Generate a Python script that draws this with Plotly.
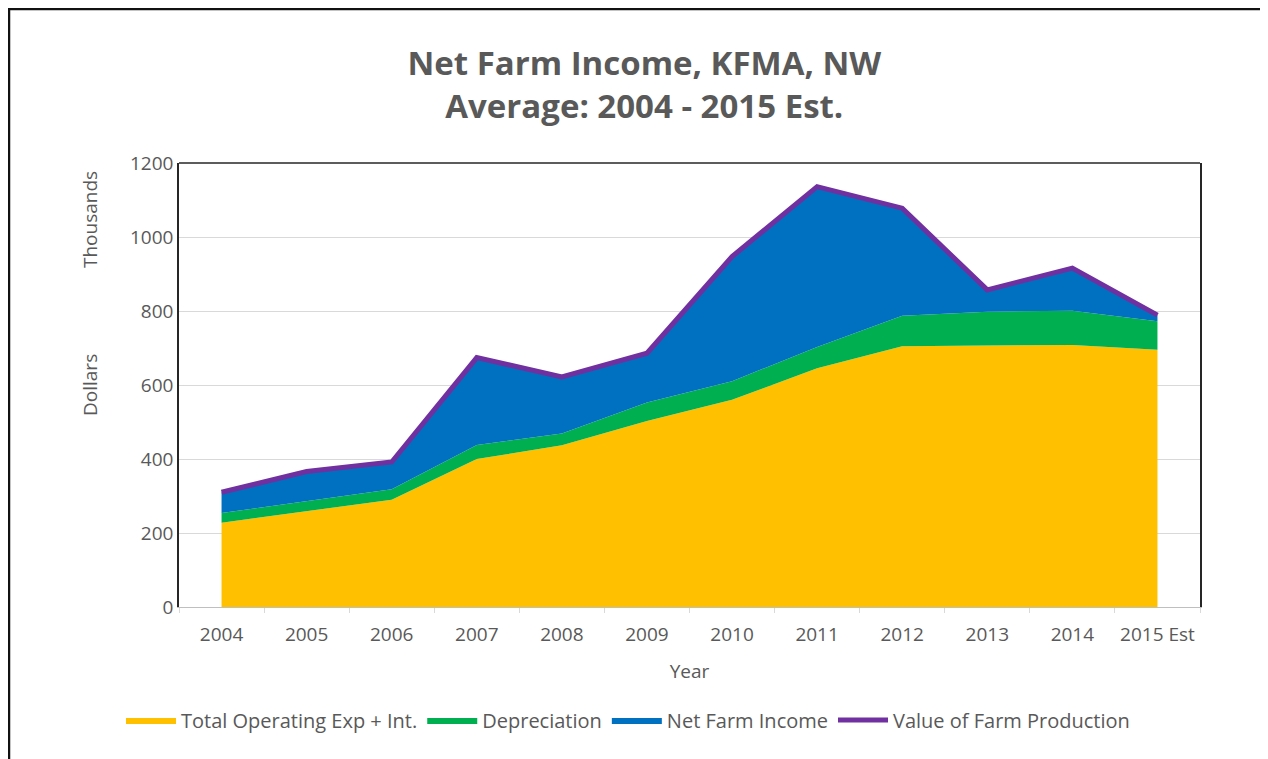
import plotly.graph_objects as go

years = ["2004", "2005", "2006", "2007", "2008", "2009", "2010", "2011", "2012", "2013", "2014", "2015 Est"]
operating_exp = [228, 260, 290, 400, 437, 503, 560, 645, 705, 707, 708, 695]
depreciation = [26, 27, 28, 38, 32, 50, 50, 58, 82, 91, 93, 77]
net_farm_income = [56, 79, 74, 236, 153, 133, 337, 433, 291, 59, 115, 17]
value_farm_production = [310, 366, 392, 674, 622, 686, 947, 1136, 1078, 857, 916, 789]
y_ticks = [0, 200, 400, 600, 800, 1000, 1200]

FONT = "Open Sans"
GREY = "#595959"

# figure is placed at (8, 8) in the page by the default body margin
W, H = 1260, 751
L, T, R, B = 171, 155, 68, 152
PW, PH = W - L - R, H - T - B  # 1021 x 444


def px(xf):
    return (xf - L) / PW


def py(yf):
    return (H - B - yf) / PH


fig = go.Figure()
fig.add_trace(go.Scatter(x=years, y=operating_exp, name="Total Operating Exp + Int.",
                         stackgroup="one", mode="lines", line=dict(width=0, color="#FFC000"),
                         fillcolor="#FFC000"))
fig.add_trace(go.Scatter(x=years, y=depreciation, name="Depreciation",
                         stackgroup="one", mode="lines", line=dict(width=0, color="#00B050"),
                         fillcolor="#00B050"))
fig.add_trace(go.Scatter(x=years, y=net_farm_income, name="Net Farm Income",
                         stackgroup="one", mode="lines", line=dict(width=0, color="#0070C0"),
                         fillcolor="#0070C0"))
fig.add_trace(go.Scatter(x=years, y=value_farm_production, name="Value of Farm Production",
                         mode="lines", line=dict(width=5, color="#7030A0")))

fig.update_layout(
    width=W, height=H,
    margin=dict(l=L, r=R, t=T, b=B, autoexpand=False),
    paper_bgcolor="white", plot_bgcolor="white",
    font=dict(family=FONT, color=GREY, size=19),
    title=dict(text="<b>Net Farm Income, KFMA, NW</b><br><b>Average: 2004 - 2015 Est.</b>",
               x=0.505, xanchor="center", y=1 - 67 / H, yanchor="middle",
               font=dict(family=FONT, size=33, color=GREY)),
    showlegend=True,
    legend=dict(orientation="h", x=px(620), xanchor="center", y=py(712), yanchor="middle",
                font=dict(family=FONT, size=20, color=GREY), traceorder="normal",
                itemwidth=50),
    xaxis=dict(type="category", range=[-0.5, 11.5], showgrid=False, automargin=False,
               showline=True, linecolor="#bfbfbf", linewidth=1,
               ticks="outside", tickson="boundaries", ticklen=5, tickcolor="#d9d9d9",
               ticklabelstandoff=10,
               tickfont=dict(size=19, color=GREY),
               title=dict(text="Year", font=dict(size=19, color=GREY), standoff=18)),
    yaxis=dict(range=[0, 1200], tickvals=y_ticks, showgrid=True, gridcolor="#d9d9d9",
               automargin=False,
               showline=True, linecolor="#262626", linewidth=1.5, mirror=True,
               zeroline=False, ticks="", tickfont=dict(size=19, color=GREY)),
)

# top border of plot area
fig.add_shape(type="line", xref="paper", yref="paper", x0=0, x1=1, y0=1, y1=1,
              line=dict(color="#262626", width=1.5))
# outer frame of the picture
fig.add_shape(type="rect", xref="paper", yref="paper",
              x0=px(1), x1=px(1254), y0=py(H + 30), y1=py(1),
              line=dict(color="#111111", width=2.5), fillcolor="rgba(0,0,0,0)")

fig.add_annotation(text="Thousands", xref="paper", yref="paper",
                   x=px(82), y=py(212), textangle=-90,
                   showarrow=False, font=dict(size=19, color=GREY), xanchor="center", yanchor="middle")
fig.add_annotation(text="Dollars", xref="paper", yref="paper",
                   x=px(82), y=py(377), textangle=-90,
                   showarrow=False, font=dict(size=19, color=GREY), xanchor="center", yanchor="middle")

fig.write_html("out.html")
